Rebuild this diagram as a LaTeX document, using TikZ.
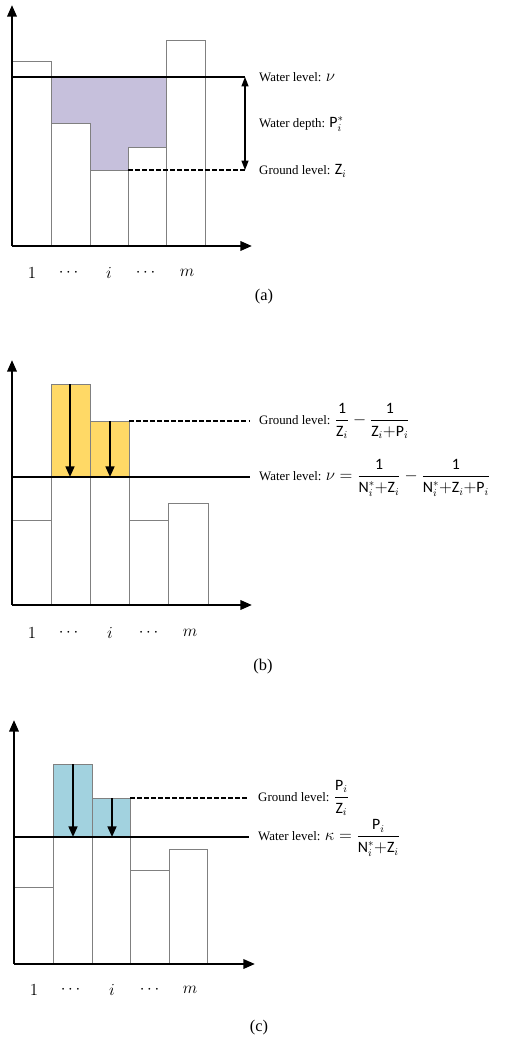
\documentclass[tikz,border=0pt]{standalone}
\usepackage{amsmath}
\usepackage{fontspec}
\setmainfont{Liberation Serif}
\newfontfamily\calib{Carlito}
\usepackage{tikz}
\usetikzlibrary{arrows.meta, calc}
\usepackage{xcolor}
\definecolor{wlpurple}{HTML}{C6C0DC}
\definecolor{wlyellow}{HTML}{FFD966}
\definecolor{wlblue}{HTML}{A2D2DF}
\definecolor{bargray}{HTML}{808080}
\newcommand{\Pv}{\text{\calib P}}
\newcommand{\Zv}{\text{\calib Z}}
\newcommand{\Nv}{\text{\calib N}}
\newcommand{\Ov}{\text{\calib 1}}
\newcommand{\lvlmath}[1]{{\fontsize{13.5}{16}\selectfont$#1$}}

\begin{document}
\begin{tikzpicture}[x=0.3mm, y=-0.3mm, font=\fontsize{11}{13}\selectfont,
    axis/.style={line width=2.1pt, -{Triangle[length=10pt,width=8pt]}},
    bar/.style={draw=bargray, line width=0.55pt},
    level/.style={line width=1.5pt},
    ground/.style={line width=1.4pt, dashed, dash pattern=on 4pt off 2pt},
    drop/.style={line width=1.6pt, -{Triangle[length=9pt,width=7.5pt]}},
    lbl/.style={anchor=west, inner sep=0pt},
    tick/.style={font=\fontsize{15}{18}\selectfont},
    caption/.style={font=\fontsize{14}{16}\selectfont}]
  \useasboundingbox (0,0) rectangle (504,1040);

  % (a)
  \coordinate (oa) at (12,246);
  \fill[wlpurple] (51,77) -- (166,77) -- (166,147) -- (128,147) -- (128,170) -- (90,170) -- (90,123) -- (51,123) -- cycle;
  \draw[bar] (12,246) rectangle (51,61);
  \draw[bar] (51,246) rectangle (90,123);
  \draw[bar] (90,246) rectangle (128,170);
  \draw[bar] (128,246) rectangle (166,147);
  \draw[bar] (166,246) rectangle (205,40);
  \coordinate (wla) at (245,77);
  \coordinate (gla) at (245,170);
  \draw[level] (12,77) -- (wla);
  \draw[ground] (128,170) -- (gla);
  \draw[line width=1pt, {Triangle[length=8pt,width=6pt]}-{Triangle[length=8pt,width=6pt]}] (wla) -- (gla);
  \draw[axis] (oa) -- (12,5);
  \draw[axis] (oa) -- (252,246);
  \node[lbl] (ta1) at (259,77) {Water level: \lvlmath{\nu}};
  \node[lbl] (ta2) at (259,124) {Water depth: \lvlmath{\Pv_i^*}};
  \node[lbl] (ta3) at (259,171) {Ground level: \lvlmath{\Zv_i}};
  \node[tick] (xa1) at (32,273) {$1$};
  \node[tick] (xa2) at (70,273) {$\cdots$};
  \node[tick] (xa3) at (109,273) {$i$};
  \node[tick] (xa4) at (147,273) {$\cdots$};
  \node[tick] (xa5) at (187,273) {$m$};
  \node[caption] (capa) at (264,297) {(a)};

  % (b)
  \coordinate (ob) at (12,605);
  \fill[wlyellow] (51,477) rectangle (90,384);
  \fill[wlyellow] (90,477) rectangle (129,421);
  \draw[bar] (51,477) rectangle (90,384);
  \draw[bar] (90,477) rectangle (129,421);
  \draw[bar] (12,605) rectangle (51,520);
  \draw[bar] (51,605) rectangle (90,477);
  \draw[bar] (90,605) rectangle (129,477);
  \draw[bar] (129,605) rectangle (168,520);
  \draw[bar] (168,605) rectangle (208,503);
  \draw[level] (12,477) -- (250,477);
  \draw[ground] (129,421) -- (250,421);
  \draw[drop] (70,384) -- (70,477);
  \draw[drop] (110,421) -- (110,477);
  \draw[axis] (ob) -- (12,360);
  \draw[axis] (ob) -- (252,605);
  \node[lbl] (tb1) at (259,421) {Ground level: \lvlmath{\dfrac{\Ov}{\Zv_i}-\dfrac{\Ov}{\Zv_i{+}\Pv_i}}};
  \node[lbl] (tb2) at (259,478) {Water level: \lvlmath{\nu=\dfrac{\Ov}{\Nv_i^*{+}\Zv_i}-\dfrac{\Ov}{\Nv_i^*{+}\Zv_i{+}\Pv_i}}};
  \node[tick] (xb1) at (32,633) {$1$};
  \node[tick] (xb2) at (70,633) {$\cdots$};
  \node[tick] (xb3) at (110,633) {$i$};
  \node[tick] (xb4) at (150,633) {$\cdots$};
  \node[tick] (xb5) at (190,633) {$m$};
  \node[caption] (capb) at (263,667) {(b)};

  % (c)
  \coordinate (oc) at (14,964);
  \fill[wlblue] (53,837) rectangle (92,764);
  \fill[wlblue] (92,837) rectangle (130,798);
  \draw[bar] (53,837) rectangle (92,764);
  \draw[bar] (92,837) rectangle (130,798);
  \draw[bar] (14,964) rectangle (53,887);
  \draw[bar] (53,964) rectangle (92,837);
  \draw[bar] (92,964) rectangle (130,837);
  \draw[bar] (130,964) rectangle (169,870);
  \draw[bar] (169,964) rectangle (207,849);
  \draw[level] (14,837) -- (249,837);
  \draw[ground] (130,798) -- (249,798);
  \draw[drop] (73,764) -- (73,837);
  \draw[drop] (112,798) -- (112,837);
  \draw[axis] (oc) -- (14,720);
  \draw[axis] (oc) -- (255,964);
  \node[lbl] (tc1) at (258,798) {Ground level: \lvlmath{\dfrac{\Pv_i}{\Zv_i}}};
  \node[lbl] (tc2) at (258,838) {Water level: \lvlmath{\kappa=\dfrac{\Pv_i}{\Nv_i^*{+}\Zv_i}}};
  \node[tick] (xc1) at (34,990) {$1$};
  \node[tick] (xc2) at (72,990) {$\cdots$};
  \node[tick] (xc3) at (112,990) {$i$};
  \node[tick] (xc4) at (151,990) {$\cdots$};
  \node[tick] (xc5) at (190,990) {$m$};
  \node[caption] (capc) at (259,1028) {(c)};
\end{tikzpicture}
\end{document}
